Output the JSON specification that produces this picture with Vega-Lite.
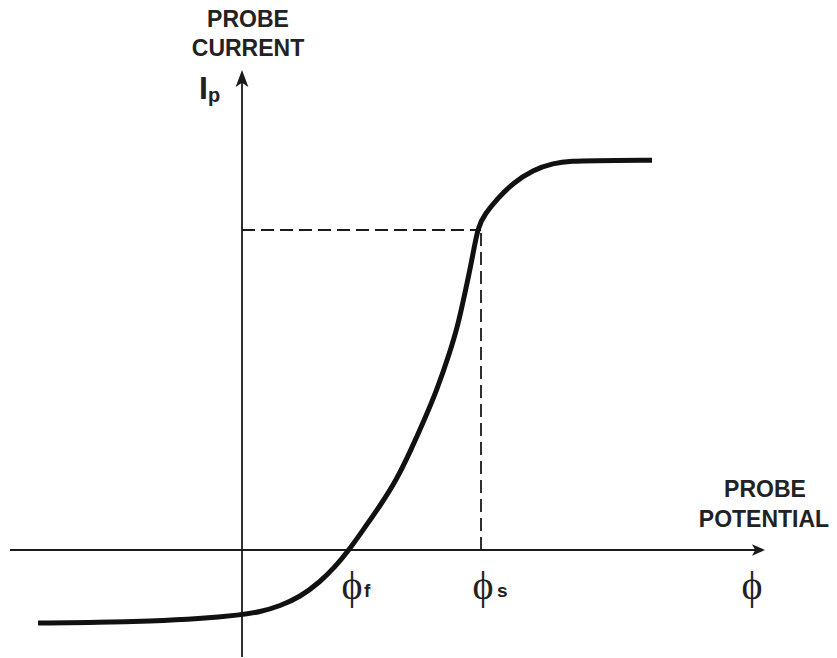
{
  "$schema": "https://vega.github.io/schema/vega-lite/v6.json",
  "width": 837,
  "height": 658,
  "autosize": {"type": "fit", "contains": "padding"},
  "padding": 0,
  "background": "white",
  "config": {"view": {"stroke": null}},
  "datasets": {
    "curve": [
      {"phi": -2.04, "current": -0.73},
      {"phi": -1.42, "current": -0.725},
      {"phi": -0.92, "current": -0.712},
      {"phi": -0.42, "current": -0.688},
      {"phi": -0.02, "current": -0.65},
      {"phi": 0.18, "current": -0.62},
      {"phi": 0.38, "current": -0.56},
      {"phi": 0.58, "current": -0.47},
      {"phi": 0.78, "current": -0.32},
      {"phi": 0.93, "current": -0.17},
      {"phi": 1.07, "current": 0.0},
      {"phi": 1.21, "current": 0.2},
      {"phi": 1.38, "current": 0.44},
      {"phi": 1.55, "current": 0.71},
      {"phi": 1.68, "current": 0.98},
      {"phi": 1.81, "current": 1.27},
      {"phi": 1.95, "current": 1.6},
      {"phi": 2.08, "current": 1.98},
      {"phi": 2.16, "current": 2.25},
      {"phi": 2.23, "current": 2.57},
      {"phi": 2.3, "current": 2.9},
      {"phi": 2.36, "current": 3.24},
      {"phi": 2.43, "current": 3.36},
      {"phi": 2.55, "current": 3.51},
      {"phi": 2.71, "current": 3.67},
      {"phi": 2.91, "current": 3.8},
      {"phi": 3.11, "current": 3.87},
      {"phi": 3.31, "current": 3.89},
      {"phi": 3.48, "current": 3.893},
      {"phi": 4.1, "current": 3.897}
    ],
    "axes": [
      {"x": -2.32, "x2": 5.2, "y": 0, "y2": 0},
      {"x": 0, "x2": 0, "y": -1.07, "y2": 4.76}
    ],
    "guides": [
      {"x": 0, "x2": 2.39, "y": 3.2, "y2": 3.2},
      {"x": 2.39, "x2": 2.39, "y": 0, "y2": 3.2}
    ],
    "upArrow": [{"x": 0, "y": 4.8}],
    "rightArrow": [{"x": 5.23, "y": 0}],
    "axisTitles": [
      {"x": 0.06, "y": 5.23, "label": "PROBE"},
      {"x": 0.06, "y": 4.94, "label": "CURRENT"},
      {"x": 5.23, "y": 0.53, "label": "PROBE"},
      {"x": 5.22, "y": 0.23, "label": "POTENTIAL"}
    ],
    "bigI": [{"x": -0.385, "y": 4.51, "label": "I"}],
    "subP": [{"x": -0.34, "y": 4.48, "label": "p"}],
    "phis": [
      {"x": 1.1, "y": -0.485, "label": "ϕ"},
      {"x": 2.41, "y": -0.485, "label": "ϕ"},
      {"x": 5.1, "y": -0.485, "label": "ϕ"}
    ],
    "subs": [
      {"x": 1.22, "y": -0.47, "label": "f"},
      {"x": 2.55, "y": -0.47, "label": "s"}
    ]
  },
  "layer": [
    {
      "data": {"name": "axes"},
      "mark": {"type": "rule", "color": "#1a1a1a", "strokeWidth": 1.8},
      "encoding": {
        "x": {"field": "x", "type": "quantitative", "scale": {"domain": [-2.42, 5.95], "nice": false, "zero": false}, "axis": null},
        "x2": {"field": "x2"},
        "y": {"field": "y", "type": "quantitative", "scale": {"domain": [-1.08, 5.5], "nice": false, "zero": false}, "axis": null},
        "y2": {"field": "y2"}
      }
    },
    {
      "data": {"name": "guides"},
      "mark": {"type": "rule", "color": "#1a1a1a", "strokeWidth": 1.8, "strokeDash": [13, 6]},
      "encoding": {
        "x": {"field": "x", "type": "quantitative", "scale": {"domain": [-2.42, 5.95], "nice": false, "zero": false}, "axis": null},
        "x2": {"field": "x2"},
        "y": {"field": "y", "type": "quantitative", "scale": {"domain": [-1.08, 5.5], "nice": false, "zero": false}, "axis": null},
        "y2": {"field": "y2"}
      }
    },
    {
      "data": {"name": "curve"},
      "mark": {"type": "line", "color": "#111111", "strokeWidth": 5, "interpolate": "basis", "strokeCap": "butt"},
      "encoding": {
        "x": {"field": "phi", "type": "quantitative", "scale": {"domain": [-2.42, 5.95], "nice": false, "zero": false}, "axis": null},
        "y": {"field": "current", "type": "quantitative", "scale": {"domain": [-1.08, 5.5], "nice": false, "zero": false}, "axis": null}
      }
    },
    {
      "data": {"name": "upArrow"},
      "mark": {"type": "point", "shape": "M0,0 L0.75,2 L0,1.5 L-0.75,2 Z", "size": 289, "filled": true, "opacity": 1, "color": "#1a1a1a"},
      "encoding": {
        "x": {"field": "x", "type": "quantitative", "scale": {"domain": [-2.42, 5.95], "nice": false, "zero": false}, "axis": null},
        "y": {"field": "y", "type": "quantitative", "scale": {"domain": [-1.08, 5.5], "nice": false, "zero": false}, "axis": null}
      }
    },
    {
      "data": {"name": "rightArrow"},
      "mark": {"type": "point", "shape": "M0,0 L-2,-0.9 L-1.5,0 L-2,0.9 Z", "size": 169, "filled": true, "opacity": 1, "color": "#1a1a1a"},
      "encoding": {
        "x": {"field": "x", "type": "quantitative", "scale": {"domain": [-2.42, 5.95], "nice": false, "zero": false}, "axis": null},
        "y": {"field": "y", "type": "quantitative", "scale": {"domain": [-1.08, 5.5], "nice": false, "zero": false}, "axis": null}
      }
    },
    {
      "data": {"name": "axisTitles"},
      "mark": {"type": "text", "font": "Liberation Sans", "fontWeight": "bold", "fontSize": 23, "align": "center", "baseline": "alphabetic", "color": "#222222"},
      "encoding": {
        "x": {"field": "x", "type": "quantitative", "scale": {"domain": [-2.42, 5.95], "nice": false, "zero": false}, "axis": null},
        "y": {"field": "y", "type": "quantitative", "scale": {"domain": [-1.08, 5.5], "nice": false, "zero": false}, "axis": null},
        "text": {"field": "label"}
      }
    },
    {
      "data": {"name": "bigI"},
      "mark": {"type": "text", "font": "Liberation Sans", "fontWeight": "bold", "fontSize": 32, "align": "center", "baseline": "alphabetic", "color": "#222222"},
      "encoding": {
        "x": {"field": "x", "type": "quantitative", "scale": {"domain": [-2.42, 5.95], "nice": false, "zero": false}, "axis": null},
        "y": {"field": "y", "type": "quantitative", "scale": {"domain": [-1.08, 5.5], "nice": false, "zero": false}, "axis": null},
        "text": {"field": "label"}
      }
    },
    {
      "data": {"name": "subP"},
      "mark": {"type": "text", "font": "Liberation Sans", "fontWeight": "bold", "fontSize": 20, "align": "left", "baseline": "alphabetic", "color": "#222222"},
      "encoding": {
        "x": {"field": "x", "type": "quantitative", "scale": {"domain": [-2.42, 5.95], "nice": false, "zero": false}, "axis": null},
        "y": {"field": "y", "type": "quantitative", "scale": {"domain": [-1.08, 5.5], "nice": false, "zero": false}, "axis": null},
        "text": {"field": "label"}
      }
    },
    {
      "data": {"name": "phis"},
      "mark": {"type": "text", "font": "Liberation Serif", "fontSize": 40, "align": "center", "baseline": "alphabetic", "color": "#222222"},
      "encoding": {
        "x": {"field": "x", "type": "quantitative", "scale": {"domain": [-2.42, 5.95], "nice": false, "zero": false}, "axis": null},
        "y": {"field": "y", "type": "quantitative", "scale": {"domain": [-1.08, 5.5], "nice": false, "zero": false}, "axis": null},
        "text": {"field": "label"}
      }
    },
    {
      "data": {"name": "subs"},
      "mark": {"type": "text", "font": "Liberation Sans", "fontWeight": "bold", "fontSize": 19, "align": "left", "baseline": "alphabetic", "color": "#222222"},
      "encoding": {
        "x": {"field": "x", "type": "quantitative", "scale": {"domain": [-2.42, 5.95], "nice": false, "zero": false}, "axis": null},
        "y": {"field": "y", "type": "quantitative", "scale": {"domain": [-1.08, 5.5], "nice": false, "zero": false}, "axis": null},
        "text": {"field": "label"}
      }
    }
  ]
}
